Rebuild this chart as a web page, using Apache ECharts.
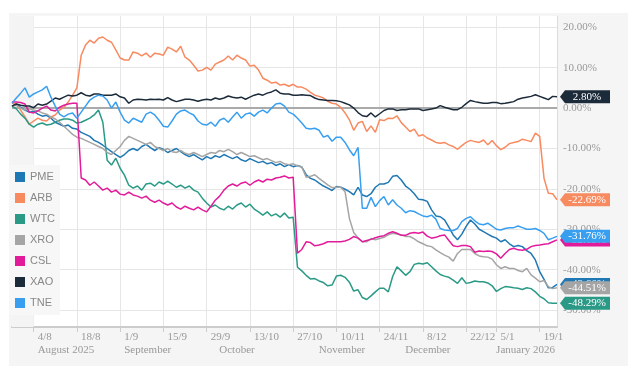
<!DOCTYPE html>
<html><head><meta charset="utf-8">
<script src="https://cdn.jsdelivr.net/npm/echarts@6/dist/echarts.min.js"></script>
<style>
html,body{margin:0;padding:0;background:#fff;}
#bg{position:absolute;left:9px;top:13px;width:619px;height:353px;background:#f5f5f5;}
#chart{position:absolute;left:0;top:0;width:642px;height:370px;}
</style></head><body>
<div id="bg"></div><div id="chart"></div>
<script>
const dates = ['28/7','29/7','30/7','31/7',
 '1/8','4/8','5/8','6/8','7/8','8/8','11/8','12/8','13/8','14/8','15/8','18/8','19/8','20/8','21/8','22/8','25/8','26/8','27/8','28/8','29/8',
 '1/9','2/9','3/9','4/9','5/9','8/9','9/9','10/9','11/9','12/9','15/9','16/9','17/9','18/9','19/9','22/9','23/9','24/9','25/9','26/9','29/9','30/9',
 '1/10','2/10','3/10','6/10','7/10','8/10','9/10','10/10','13/10','14/10','15/10','16/10','17/10','20/10','21/10','22/10','23/10','24/10','27/10','28/10','29/10','30/10','31/10',
 '3/11','4/11','5/11','6/11','7/11','10/11','11/11','12/11','13/11','14/11','17/11','18/11','19/11','20/11','21/11','24/11','25/11','26/11','27/11','28/11',
 '1/12','2/12','3/12','4/12','5/12','8/12','9/12','10/12','11/12','12/12','15/12','16/12','17/12','18/12','19/12','22/12','23/12','24/12','29/12','30/12','31/12',
 '2/1','5/1','6/1','7/1','8/1','9/1','12/1','13/1','14/1','15/1','16/1','19/1','20/1','21/1','22/1','23/1'];
const tickDates = ['4/8','18/8','1/9','15/9','29/9','13/10','27/10','10/11','24/11','8/12','22/12','5/1','19/1'];
const monthStartDates = ['4/8','1/9','1/10','3/11','1/12','2/1'];
const monthNames = ['August 2025','September','October','November','December','January 2026'];
const yTicks = [-50,-40,-30,-20,-10,0,10,20];
const names = ['PME','ARB','WTC','XRO','CSL','XAO','TNE'];
const colors = ['#1f78b4','#f88a60','#2a9a86','#a5a5a5','#e21b9b','#1c2b3a','#389ff0'];

const pme = [0.5,1.0,0.2,-0.5,-1.0,-0.8,-1.5,-2.0,-1.8,-2.5,
 -3.5,-4.0,-4.5,-4.2,-5.0,-5.2,-6.0,-6.5,-7.0,-8.0,
 -8.5,-9.2,-10.0,-10.8,-11.5,-12.2,-11.5,-10.5,-10.0,-10.5,
 -9.5,-9.0,-9.8,-10.5,-9.8,-10.2,-11.0,-10.5,-10.0,-10.8,
 -11.5,-12.0,-11.5,-12.2,-12.8,-12.0,-12.5,-11.8,-12.2,-11.5,
 -12.0,-12.5,-12.0,-12.8,-13.2,-12.5,-13.0,-13.5,-13.2,-13.8,
 -13.5,-14.2,-13.8,-14.5,-14.0,-14.5,-14.2,-14.6,-16.5,-17.4,
 -17.8,-18.6,-19.3,-19.8,-20.4,-19.4,-19.6,-20.1,-20.7,-21.5,
 -19.6,-21.5,-21.9,-21.2,-19.6,-18.8,-18.8,-18.4,-16.9,-16.7,
 -17.8,-19.3,-20.1,-21.2,-22.6,-22.7,-23.1,-25.2,-26.7,-26.9,
 -27.7,-29.5,-31.4,-32.6,-31.2,-29.3,-27.7,-28.7,-30.0,-30.6,
 -31.2,-31.8,-32.2,-33.1,-32.6,-33.6,-34.3,-34.0,-34.3,-35.3,
 -36.0,-37.6,-40.5,-42.4,-44.5,-44.4,-43.66];
const arb = [1.2,1.0,-0.5,-2.2,-4.0,-3.2,-2.5,-3.0,-3.2,-2.2,
 -1.7,-0.5,0.2,1.5,3.2,5.0,13.1,15.6,16.8,16.1,
 17.3,17.6,16.8,16.3,14.4,12.4,11.9,11.9,13.9,13.6,
 12.9,13.6,12.6,13.6,13.4,13.1,15.1,14.6,13.9,15.3,
 12.6,11.9,10.6,9.2,9.4,10.1,9.4,10.9,11.4,11.9,
 12.9,11.9,13.1,12.4,11.9,10.4,10.6,9.4,7.4,6.9,
 6.2,6.4,5.7,5.9,5.4,5.9,5.2,5.2,4.7,3.9,
 3.2,2.9,2.5,1.7,1.2,1.0,0.2,-1.2,-2.9,-5.5,
 -3.7,-3.3,-5.8,-4.4,-6.0,-2.9,-3.1,-2.5,-2.6,-1.9,
 -3.6,-4.7,-5.8,-5.2,-6.9,-6.6,-7.4,-7.9,-8.5,-8.7,
 -8.5,-9.1,-9.5,-10.2,-9.3,-8.5,-8.0,-8.3,-8.5,-7.9,
 -9.1,-8.0,-9.3,-10.3,-9.7,-8.8,-8.5,-8.3,-7.7,-8.0,
 -8.3,-6.2,-7.0,-17.4,-21.1,-21.2,-22.69];
const wtc = [0.5,-0.2,-1.5,-2.5,-4.0,-4.7,-4.0,-3.7,-4.2,-4.0,
 -3.5,-3.0,-2.7,-2.7,-3.0,-3.7,-3.5,-3.0,-2.5,-1.7,
 -0.5,-3.5,-12.9,-14.1,-12.4,-14.9,-16.6,-19.1,-19.8,-19.3,
 -20.3,-18.8,-18.6,-19.3,-18.3,-18.8,-18.1,-18.8,-19.6,-19.1,
 -19.8,-19.3,-20.3,-20.8,-22.3,-23.5,-24.5,-24.0,-24.8,-25.2,
 -24.3,-25.0,-24.0,-23.5,-24.5,-23.8,-25.0,-25.7,-26.5,-25.7,
 -26.7,-26.2,-27.0,-26.0,-27.2,-27.0,-39.4,-40.3,-41.4,-42.3,
 -42.2,-42.8,-43.2,-44.0,-43.8,-41.6,-41.4,-41.9,-43.1,-45.3,
 -45.0,-46.9,-47.4,-46.5,-45.5,-44.6,-44.6,-45.5,-41.7,-39.3,
 -40.3,-41.4,-40.5,-38.7,-38.4,-38.6,-38.3,-39.3,-40.3,-41.2,
 -41.6,-41.9,-42.6,-43.4,-42.0,-43.4,-43.2,-42.8,-43.0,-43.0,
 -43.3,-44.0,-45.4,-44.7,-44.2,-44.3,-44.5,-44.6,-44.9,-44.5,
 -44.7,-45.5,-46.6,-47.2,-48.2,-48.3,-48.29];
const xro = [0.5,0.7,0.0,-0.5,-0.2,-0.5,-0.7,-1.2,-1.5,-2.2,
 -2.7,-3.5,-4.5,-5.5,-6.5,-7.2,-7.5,-8.0,-8.5,-9.0,
 -9.5,-10.0,-11.0,-11.5,-10.5,-9.5,-8.0,-7.0,-7.5,-8.0,
 -8.5,-9.0,-8.5,-9.5,-10.0,-10.5,-10.0,-10.8,-11.0,-10.5,
 -11.2,-11.5,-11.0,-11.5,-12.0,-11.5,-11.0,-11.2,-10.5,-10.8,
 -10.2,-10.8,-11.5,-11.0,-11.5,-12.0,-11.8,-12.3,-12.8,-12.5,
 -13.0,-13.5,-13.2,-13.8,-14.0,-13.8,-14.3,-14.6,-17.1,-16.9,
 -16.5,-17.4,-18.2,-19.0,-19.7,-19.6,-19.6,-20.7,-27.3,-30.8,
 -32.1,-33.1,-33.1,-32.3,-32.6,-32.3,-32.0,-31.4,-31.0,-31.2,
 -31.4,-31.8,-31.8,-32.4,-33.1,-33.6,-34.1,-34.3,-35.1,-35.8,
 -36.4,-36.9,-37.9,-36.0,-35.0,-35.0,-35.0,-36.0,-36.6,-36.8,
 -36.9,-37.4,-38.8,-39.7,-39.3,-39.7,-39.7,-40.2,-40.5,-39.7,
 -41.3,-42.1,-43.0,-42.7,-44.2,-44.7,-44.51];
const csl = [1.5,1.5,1.4,1.0,-1.0,-1.2,-0.7,0.0,0.5,-0.5,
 -0.7,0.2,0.7,1.0,1.2,1.2,-17.3,-17.8,-19.1,-18.3,
 -19.3,-20.3,-19.8,-20.8,-20.3,-21.3,-21.5,-20.8,-21.5,-21.8,
 -22.3,-21.8,-22.8,-23.3,-22.8,-23.5,-24.0,-23.5,-24.5,-25.0,
 -24.3,-24.8,-25.2,-24.5,-25.2,-25.7,-24.3,-22.8,-21.8,-20.3,
 -19.3,-18.8,-19.3,-18.6,-18.3,-19.1,-18.3,-17.8,-18.3,-17.6,
 -17.8,-17.3,-17.1,-16.8,-17.3,-17.1,-35.9,-35.0,-33.1,-33.3,
 -34.1,-33.9,-33.6,-33.1,-33.1,-33.1,-33.1,-32.9,-32.5,-31.8,
 -32.2,-33.1,-32.8,-32.5,-32.1,-31.8,-31.6,-31.0,-30.6,-31.0,
 -31.5,-31.5,-31.0,-30.8,-31.0,-30.7,-31.7,-32.2,-32.0,-31.6,
 -31.4,-32.8,-34.1,-34.3,-34.0,-34.0,-34.3,-35.7,-35.4,-35.5,
 -35.4,-35.5,-36.1,-37.2,-36.0,-35.0,-34.7,-35.1,-35.2,-34.96,
 -34.3,-34.0,-33.9,-33.7,-33.6,-33.1,-32.63];
const xao = [0.5,1.0,0.7,0.5,0.5,0.1,1.0,0.7,1.0,1.7,
 2.5,2.2,2.7,3.2,3.0,3.2,3.8,3.2,3.0,3.5,
 3.5,3.2,3.2,3.2,3.5,2.8,2.5,1.2,2.0,2.2,
 2.1,2.0,2.2,2.1,2.2,2.0,2.6,2.0,1.6,1.9,
 2.2,2.2,2.0,1.7,2.0,2.2,2.0,2.5,2.2,2.5,
 3.0,2.7,2.5,2.7,2.2,2.7,3.2,3.5,3.2,3.7,
 4.0,4.5,3.7,3.5,3.5,3.2,3.2,3.3,3.2,3.1,
 2.5,2.1,2.0,1.9,1.9,1.8,1.6,1.2,0.8,0.0,
 -1.1,-1.9,-2.1,-1.2,-2.2,-1.4,-0.6,-0.2,-0.2,-0.6,
 -0.4,-0.4,-0.2,-0.2,-0.2,-0.6,-0.4,-0.2,0.0,0.6,
 0.2,-0.1,-0.4,-0.4,0.2,1.1,1.9,1.6,1.4,1.2,
 1.2,1.4,1.4,1.1,1.2,1.4,1.6,2.2,2.5,2.7,
 2.9,3.3,2.9,2.5,2.1,2.9,2.80];
const tne = [1.2,2.5,3.7,5.0,2.7,3.5,4.0,4.5,5.4,2.7,
 0.5,-1.5,-2.2,-1.5,-1.2,-2.5,-1.0,0.5,2.0,2.7,
 3.2,3.0,2.0,0.0,1.5,-1.0,-3.0,-3.7,-2.5,-3.0,
 -3.5,-1.5,-1.0,-1.7,-3.0,-4.5,-4.7,-3.2,-1.5,-0.7,
 -0.5,-1.2,-1.7,-3.2,-4.0,-4.2,-3.5,-4.5,-3.0,-2.5,
 -3.5,-2.2,-1.0,-2.5,-1.5,-1.2,-2.0,-1.0,-0.5,-1.2,
 0.0,1.0,1.2,0.5,-1.0,-1.5,-2.5,-3.7,-5.0,-5.2,
 -5.0,-5.5,-7.2,-6.8,-8.2,-7.2,-7.2,-8.5,-10.3,-11.8,
 -9.7,-24.8,-24.8,-22.1,-24.4,-22.9,-21.9,-24.0,-22.7,-24.0,
 -24.8,-25.9,-25.4,-25.6,-26.2,-26.7,-26.9,-26.5,-27.5,-29.8,
 -30.2,-30.3,-30.3,-29.8,-28.1,-27.3,-26.9,-27.9,-28.7,-28.9,
 -28.5,-29.2,-30.0,-30.2,-29.8,-29.6,-29.6,-29.2,-29.6,-30.0,
 -30.0,-29.8,-30.3,-31.0,-32.6,-32.2,-31.76];

const seriesData = [pme, arb, wtc, xro, csl, xao, tne];
const labelFont = 'Liberation Serif, Times New Roman, serif';

const series = names.map((n, i) => {
  const d = seriesData[i];
  const last = d[d.length - 1];
  const s = {
    name: n, type: 'line', data: d, showSymbol: false, symbol: 'none',
    color: colors[i], itemStyle: {color: colors[i]},
    lineStyle: {width: 1.5, color: colors[i]}, z: 2, silent: true,
    markPoint: {
      symbol: 'path://M0,6.5L5,0L50,0L50,13L5,13Z',
      symbolSize: [50, 13], symbolKeepAspect: false, symbolOffset: [28, 0],
      z: 10 + i, silent: true, animation: false,
      itemStyle: {color: colors[i]},
      label: {show: true, position: 'inside', offset: [2, 0], color: '#fff',
        fontFamily: labelFont, fontSize: 11,
        formatter: p => p.value.toFixed(2) + '%'},
      data: [{coord: [dates[dates.length - 1], last], value: last}]
    }
  };
  if (i === 0) {
    s.markLine = {silent: true, symbol: ['none', 'none'], z: 1, animation: false,
      label: {show: false}, lineStyle: {color: '#aaa', width: 2, type: 'solid'},
      data: [{yAxis: 0}]};
    s.markArea = {silent: true, animation: false, itemStyle: {color: '#f4f4f4'},
      data: [[{xAxis: dates[0]}, {xAxis: tickDates[0]}]]};
  }
  return s;
});

const chart = echarts.init(document.getElementById('chart'), null, {renderer: 'canvas'});
chart.setOption({
  animation: false,
  backgroundColor: 'transparent',
  grid: {left: 12, right: 85, top: 16, bottom: 43, show: true, backgroundColor: '#fff',
    borderWidth: 0, containLabel: false, outerBoundsMode: 'none'},
  legend: {orient: 'vertical', left: 9, top: 165, data: names, icon: 'rect',
    itemWidth: 10, itemHeight: 10, itemGap: 9, padding: [6, 5, 6, 6],
    backgroundColor: '#f7f7f7', selectedMode: false,
    textStyle: {color: '#888', fontFamily: 'Liberation Sans, Arial, sans-serif', fontSize: 11, lineHeight: 12}},
  xAxis: [{
    type: 'category', data: dates, boundaryGap: false, position: 'bottom',
    axisLine: {show: true, onZero: false, lineStyle: {color: '#ccc', width: 2}},
    axisTick: {show: true, length: 5, lineStyle: {color: '#ccc'},
      interval: (idx, val) => tickDates.includes(val)},
    axisLabel: {interval: (idx, val) => tickDates.includes(val), align: 'left',
      padding: [0, 0, 0, 4], margin: 5, color: '#999', fontFamily: labelFont, fontSize: 11,
      hideOverlap: false},
    splitLine: {show: true, interval: (idx, val) => tickDates.includes(val),
      lineStyle: {color: '#e6e6e6', width: 1}}
  }, {
    type: 'category', data: dates, boundaryGap: false, position: 'bottom', offset: 13,
    axisLine: {show: false, onZero: false}, axisTick: {show: false}, splitLine: {show: false},
    axisLabel: {interval: (idx, val) => monthStartDates.includes(val),
      formatter: v => monthNames[monthStartDates.indexOf(v)] || '',
      align: 'left', padding: [0, 0, 0, 4], margin: 5, color: '#999',
      fontFamily: labelFont, fontSize: 11, hideOverlap: false}
  }],
  yAxis: {
    type: 'value', position: 'right', min: -54.2, max: 22.8,
    axisLine: {show: true, lineStyle: {color: '#dcdcdc', width: 1}},
    axisTick: {show: false, customValues: yTicks},
    axisLabel: {customValues: yTicks, formatter: v => v.toFixed(2) + '%', color: '#999',
      fontFamily: labelFont, fontSize: 11, margin: 6},
    splitLine: {show: true, lineStyle: {color: '#e6e6e6', width: 1}}
  },
  series: series
});
</script>
</body></html>
